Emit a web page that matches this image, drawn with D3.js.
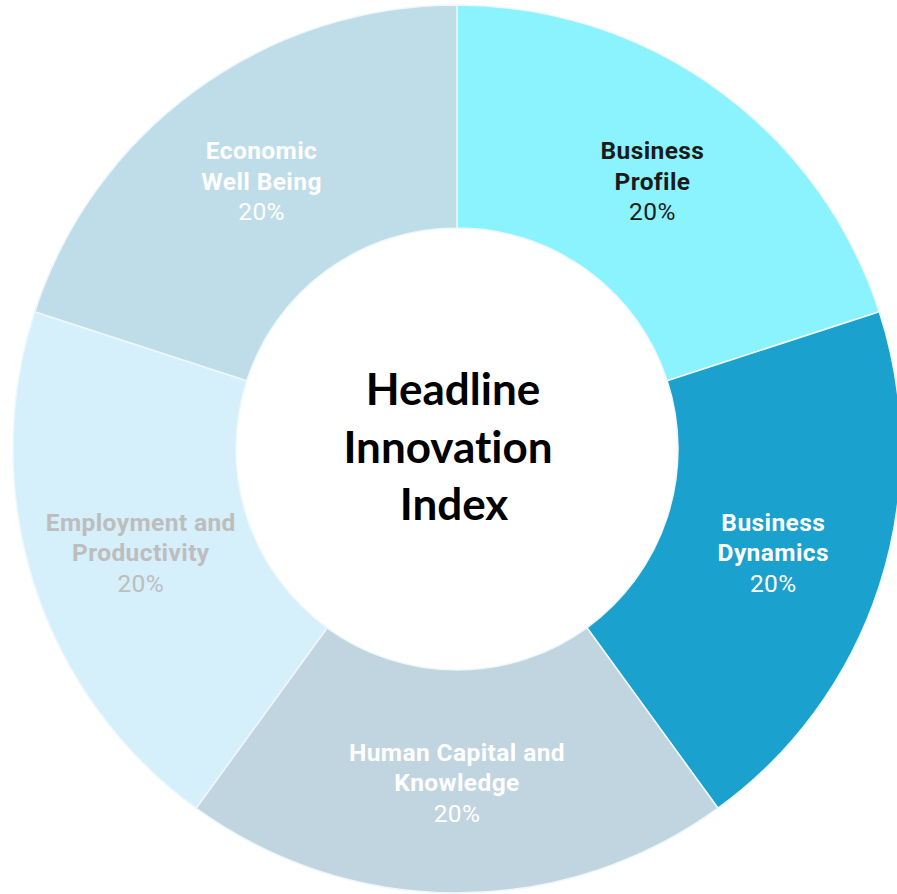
<!DOCTYPE html>
<html>
<head>
<meta charset="utf-8">
<script src="https://cdn.jsdelivr.net/npm/d3@7/dist/d3.min.js"></script>
<style>
  html, body { margin: 0; padding: 0; background: #ffffff; }
  svg { display: block; }
  text { font-variant-ligatures: none; font-feature-settings: "liga" 0, "clig" 0; }
</style>
</head>
<body>
<svg id="chart" width="897" height="894"></svg>
<script>
const categories = [
  ["Business", "Profile"],
  ["Business", "Dynamics"],
  ["Human Capital and", "Knowledge"],
  ["Employment and", "Productivity"],
  ["Economic", "Well Being"]
];
const values = [20, 20, 20, 20, 20];
const colors = ["#8bf3fe", "#1aa1ce", "#c1d5e0", "#d5effb", "#bfdde8"];
const textColors = ["#1b1b1b", "#ffffff", "#ffffff", "#bdbdbd", "#ffffff"];
const centerTitle = ["Headline", "Innovation", "Index"];

const svg = d3.select("#chart");
const cx = 457, cy = 449, outerR = 444, innerR = 221;
const g = svg.append("g").attr("transform", `translate(${cx},${cy})`);

const data = values.map((v, i) => ({ name: categories[i], value: v, color: colors[i], tc: textColors[i] }));
const pie = d3.pie().value(d => d.value).sort(null);
const arc = d3.arc().innerRadius(innerR).outerRadius(outerR);
const arcs = pie(data);

g.selectAll("path.slice").data(arcs).join("path")
  .attr("class", "slice")
  .attr("d", arc)
  .attr("fill", d => d.data.color)
  .attr("stroke", "#eef8fc")
  .attr("stroke-width", 1.5);

const total = d3.sum(values);
const labels = g.selectAll("g.label").data(arcs).join("g")
  .attr("class", "label")
  .attr("transform", d => `translate(${arc.centroid(d)})`);

labels.each(function(d) {
  const sel = d3.select(this);
  const lines = d.data.name;
  const t = sel.append("text")
    .attr("text-anchor", "middle")
    .attr("font-family", "Roboto, sans-serif")
    .attr("font-size", 24.5)
    .attr("letter-spacing", 0.4)
    .attr("fill", d.data.tc);
  lines.forEach((ln, i) => {
    t.append("tspan").attr("x", 0).attr("y", -29.5 + i * 30.5)
      .attr("dy", "0.35em").attr("font-weight", 700).text(ln);
  });
  t.append("tspan").attr("x", 0).attr("y", -29.5 + lines.length * 30.5)
    .attr("dy", "0.35em").attr("font-weight", 400)
    .text(d3.format(".0%")(d.data.value / total));
});

const ct = g.append("text")
  .attr("text-anchor", "middle")
  .attr("font-family", "Lato, 'Open Sans', sans-serif")
  .attr("font-weight", 700)
  .attr("font-size", 44)
  .attr("fill", "#000");
const ctX = [-4, -9, -3];
centerTitle.forEach((ln, i) => {
  ct.append("tspan").attr("x", ctX[i]).attr("y", -59 + i * 57.5).attr("dy", "0.35em").text(ln);
});
</script>
</body>
</html>
